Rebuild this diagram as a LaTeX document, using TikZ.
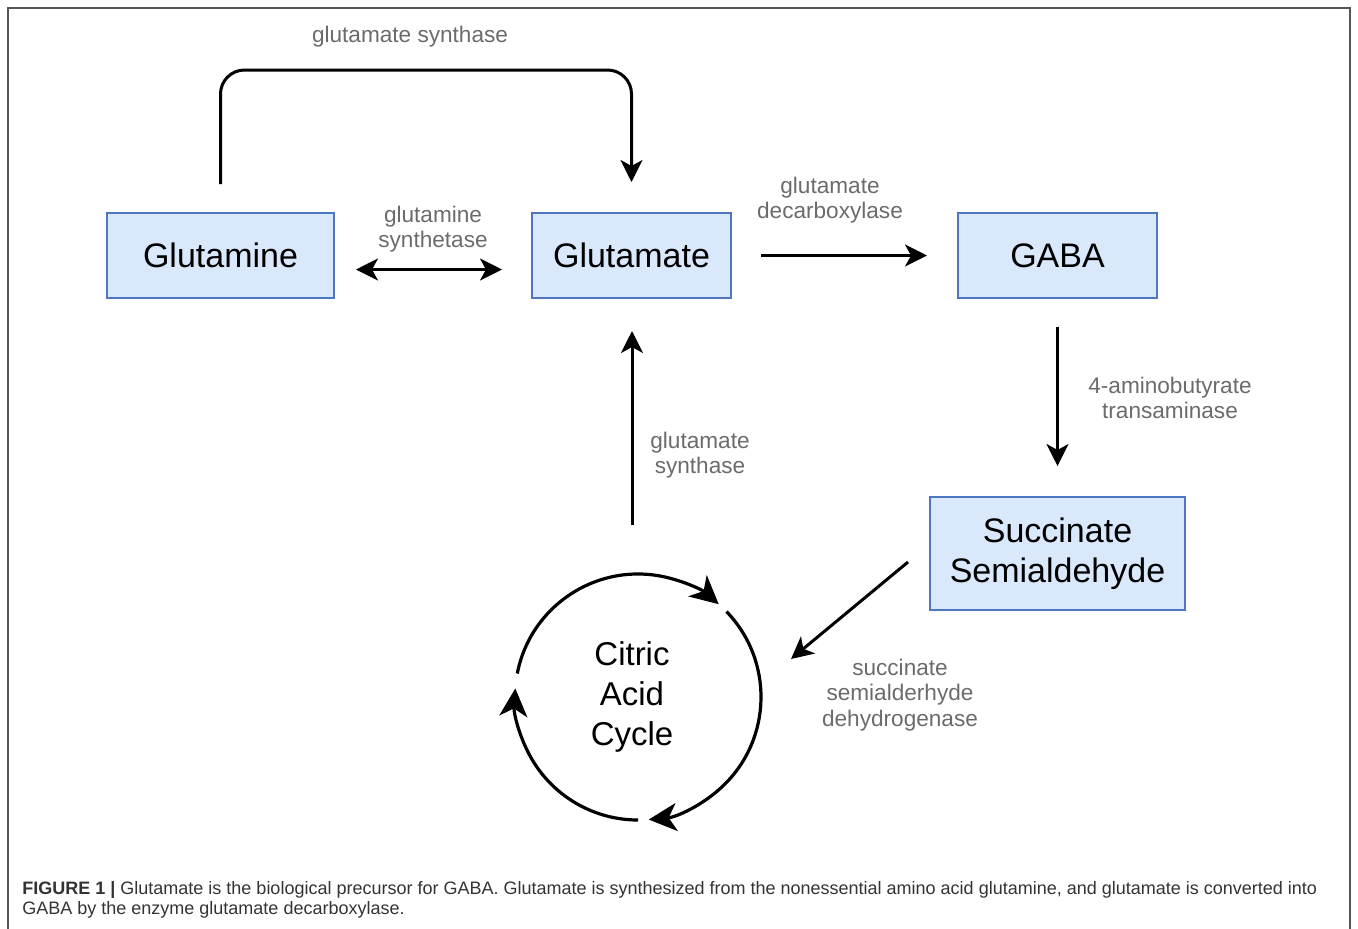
\documentclass[tikz,border=0pt]{standalone}
\usepackage{fontspec}
\setmainfont{Liberation Sans}
\usetikzlibrary{arrows.meta,calc}
\definecolor{boxfill}{HTML}{DAE8FC}
\definecolor{boxline}{HTML}{4F76C0}
\definecolor{framegray}{HTML}{555555}
\definecolor{capgray}{HTML}{333333}

\begin{document}
\begin{tikzpicture}[
  x=0.5pt, y=-0.5pt,
  metab/.style={draw=boxline, line width=1pt, fill=boxfill, align=center,
                font=\fontsize{17}{20}\selectfont, inner sep=0pt,
                minimum width=99.5pt, minimum height=42.5pt},
  arr/.style={-{Stealth[length=11pt, width=11pt, inset=3pt]}, line width=1.5pt},
  biarr/.style={{Stealth[length=11pt, width=11pt, inset=3pt]}-{Stealth[length=11pt, width=11pt, inset=3pt]},
                line width=1.5pt},
  cycarr/.style={-{Stealth[length=14pt, width=14pt, inset=4pt]}, line width=1.6pt},
  enz/.style={font=\fontsize{11.3}{12.7}\selectfont, text=black!58, align=center, inner sep=0pt},
]
\useasboundingbox (0,0) rectangle (1358,928);

%% frame round the figure
\draw[framegray, line width=1pt] (8,940) -- (8,8) -- (1350,8) -- (1350,940);

%% metabolites
\node[metab, minimum width=113.5pt] (glutamine) at (220.5,255.5) {Glutamine};
\node[metab] (glutamate) at (631.5,255.5) {Glutamate};
\node[metab] (gaba)      at (1057.5,255.5) {GABA};
\node[metab, minimum width=127.5pt, minimum height=56.5pt] (ssa) at (1057.5,553.5) {Succinate\\Semialdehyde};
\node[font=\fontsize{16.5}{20}\selectfont, align=center, inner sep=0pt] (tca) at (632,697) {Citric\\Acid\\Cycle};

%% citric acid cycle ring
\coordinate (ring) at (638,697);
\draw[cycarr] ($(ring)+(-169:123)$) arc[start angle=-169, end angle=-49, radius=123];
\draw[cycarr] ($(ring)+(-44:123)$)  arc[start angle=-44,  end angle=85,  radius=123];
\draw[cycarr] ($(ring)+(90:123)$)   arc[start angle=90,   end angle=184, radius=123];

%% free ends
\coordinate (ssout)  at (908,562);
\coordinate (tcain)  at (791,659);
\coordinate (tcaout) at (632,525);

%% reactions
\draw[biarr, shorten <=10.5pt, shorten >=14.5pt] ($(glutamine.east)+(0,14)$) -- ($(glutamate.west)+(0,14)$);
\draw[arr, rounded corners=12pt, shorten <=14pt, shorten >=15pt] (glutamine.north) -- ++(0,-142) -| (glutamate.north);
\draw[arr, shorten <=14.5pt, shorten >=15pt] (glutamate.east) -- (gaba.west);
\draw[arr, shorten <=14pt, shorten >=15pt] (gaba.south) -- (ssa.north);
\draw[arr] (ssout) -- (tcain);
\draw[arr, shorten >=16pt] (tcaout) -- (tcaout |- glutamate.south);

%% enzymes
\node[enz] (gs1)  at (410,37)   {glutamate synthase};
\node[enz] (gln)  at (433,229)  {glutamine\\synthetase};
\node[enz] (gad)  at (830,200)  {glutamate\\decarboxylase};
\node[enz] (gabat) at (1170,398) {4-aminobutyrate\\transaminase};
\node[enz] (gs2)  at (700,455)  {glutamate\\synthase};
\node[enz] (ssadh) at (900,695) {succinate\\semialderhyde\\dehydrogenase};

%% caption
\node[anchor=north west, align=left, inner sep=0pt, text=capgray,
      font=\fontsize{9}{10}\selectfont] (caption) at (22,881)
  {\textbf{FIGURE 1 |} Glutamate is the biological precursor for GABA. Glutamate is synthesized from the nonessential amino acid glutamine, and glutamate is converted into\\
   GABA by the enzyme glutamate decarboxylase.};

\end{tikzpicture}
\end{document}
